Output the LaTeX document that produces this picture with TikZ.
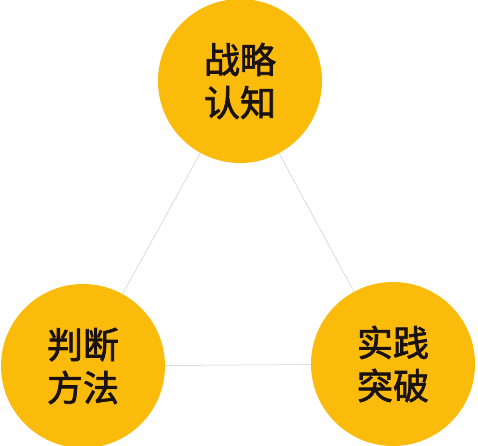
\documentclass[tikz,border=0pt]{standalone}
\usepackage{fontspec}
\newfontfamily\cjk{Noto Sans CJK SC}[FakeBold=2]
\definecolor{gold}{HTML}{FABB0A}
\definecolor{linegray}{HTML}{CCCCCC}
\definecolor{txt}{HTML}{1A1212}
\begin{document}
\begin{tikzpicture}[x=1pt,y=-1pt,
  ball/.style={circle,fill=gold,minimum size=164pt,inner sep=0pt,text=txt,
    font=\cjk\fontsize{36}{43}\selectfont,align=center},
  link/.style={draw=linegray,line width=0.5pt}]
\useasboundingbox (0,0) rectangle (478,445);
\node[ball] (a) at (240,81) {战略\\认知};
\node[ball] (b) at (83,366) {判断\\方法};
\node[ball] (c) at (393,364) {实践\\突破};
\path[link] (a) -- (b);
\path[link] (a) -- (c);
\path[link] (b) -- (c);
\end{tikzpicture}
\end{document}
